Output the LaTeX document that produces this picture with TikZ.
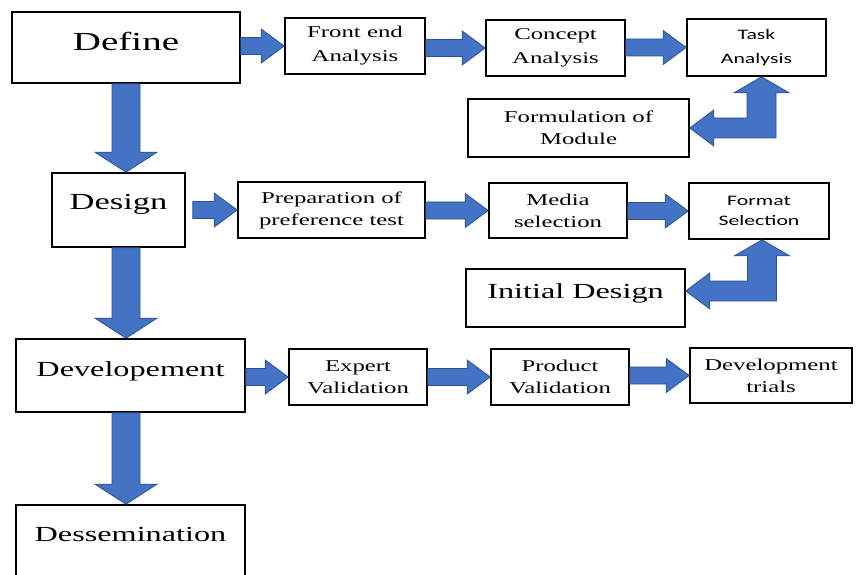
\documentclass[tikz,border=0pt]{standalone}
\usepackage{fontspec}
\setmainfont{Liberation Serif}[FakeStretch=1.5]
\newfontfamily\calibrifont{Carlito}[FakeStretch=1.5]
\usetikzlibrary{calc}

\begin{document}
\begin{tikzpicture}[x=1pt,y=-1pt]
    % Colors
    \definecolor{arrowfill}{RGB}{68,114,196}
    \definecolor{arrowedge}{RGB}{47,82,143}
    % Styles
    \tikzstyle{box}=[draw=black,line width=1.6pt,align=center,inner sep=0pt]
    \tikzstyle{phase}=[box,font=\fontsize{21.5}{26}\selectfont]
    \tikzstyle{stepbox}=[box,font=\fontsize{16.5}{22}\selectfont]
    \tikzstyle{sansbox}=[box,font=\calibrifont\fontsize{14.5}{22}\selectfont]
    \tikzstyle{blockarrow}=[fill=arrowfill,draw=arrowedge,line width=0.8pt,line join=miter]
    \tikzstyle{rarrow}=[blockarrow,to path={let \p1=(\tikztostart), \p2=(\tikztotarget) in
        (\x1,\y2+8.5pt) -- (\x2-23pt,\y2+8.5pt) -- (\x2-23pt,\y2+17pt) -- (\p2)
        -- (\x2-23pt,\y2-17pt) -- (\x2-23pt,\y2-8.5pt) -- (\x1,\y2-8.5pt) -- cycle}]
    \tikzstyle{darrow}=[blockarrow,to path={let \p1=(\tikztostart), \p2=(\tikztotarget) in
        (\x1-14pt,\y1) -- (\x1-14pt,\y2+20pt) -- (\x1-31pt,\y2+20pt) -- (\x1,\y2)
        -- (\x1+31pt,\y2+20pt) -- (\x1+14pt,\y2+20pt) -- (\x1+14pt,\y1) -- cycle}]
    \tikzstyle{elbow}=[blockarrow,to path={let \p1=(\tikztostart), \p2=(\tikztotarget) in
        (\p1) -- (\x1+27.5pt,\y1-16pt) -- (\x1+14.5pt,\y1-16pt) -- (\x1+14.5pt,\y2-10pt)
        -- (\x2+24pt,\y2-10pt) -- (\x2+24pt,\y2-18pt) -- (\p2) -- (\x2+24pt,\y2+18pt)
        -- (\x2+24pt,\y2+10pt) -- (\x1-14.5pt,\y2+10pt) -- (\x1-14.5pt,\y1-16pt)
        -- (\x1-27.5pt,\y1-16pt) -- cycle}]
    %The graphic
    \useasboundingbox[fill=white] (0,0) rectangle (868,575);
    % Phases
    \node[phase,minimum width=228,minimum height=71,font=\fontsize{26}{30}\selectfont,text depth=13pt] (define) at (126,47.5) {Define};
    \node[phase,minimum width=133,minimum height=74,font=\fontsize{23}{27}\selectfont,text depth=16pt] (design) at (118.5,210) {Design};
    \node[phase,minimum width=229,minimum height=73,text depth=12.5pt] (developement) at (130.5,375.5) {Developement};
    \node[phase,minimum width=229,minimum height=75,text depth=16.5pt] (dessemination) at (130.5,542.5) {Dessemination};
    % Define steps
    \node[stepbox,minimum width=140,minimum height=56,font=\fontsize{16.5}{24}\selectfont] (front) at (355,46) {Front end\\Analysis};
    \node[stepbox,minimum width=139,minimum height=56,font=\fontsize{16.5}{24}\selectfont] (concept) at (555.5,48) {Concept\\Analysis};
    \node[sansbox,minimum width=139,minimum height=57,font=\calibrifont\fontsize{14.5}{24}\selectfont] (task) at (756.5,47.5) {Task\\Analysis};
    \node[stepbox,minimum width=221,minimum height=58] (formulation) at (578.5,128) {Formulation of\\Module};
    % Design steps
    \node[stepbox,minimum width=187,minimum height=56] (preparation) at (331.5,210) {Preparation of\\preference test};
    \node[stepbox,minimum width=138,minimum height=55] (media) at (558,210.5) {Media\\selection};
    \node[sansbox,minimum width=140,minimum height=56,font=\calibrifont\fontsize{14.5}{20}\selectfont] (format) at (759,211) {Format\\Selection};
    \node[phase,minimum width=219,minimum height=58,text depth=14.5pt] (initial) at (575.5,298) {Initial Design};
    % Developement steps
    \node[stepbox,minimum width=138,minimum height=56] (expert) at (358,377) {Expert\\Validation};
    \node[stepbox,minimum width=138,minimum height=56] (product) at (560,377) {Product\\Validation};
    \node[stepbox,minimum width=162,minimum height=55] (trials) at (771,375.5) {Development\\trials};
    % Arrows down
    \path[darrow] (define.south) to (design.north);
    \path[darrow] (define.south |- design.south) to (developement.north);
    \path[darrow] (define.south |- developement.south) to (dessemination.north);
    % Arrows right
    \path[rarrow] (define.east) to (front.west);
    \path[rarrow] (front.east) to (concept.west);
    \path[rarrow] (concept.east) to (task.west);
    \path[rarrow] ([xshift=7pt]design.east) to (preparation.west);
    \path[rarrow] (preparation.east) to (media.west);
    \path[rarrow] (media.east) to (format.west);
    \path[rarrow] (developement.east) to (expert.west);
    \path[rarrow] (expert.east) to (product.west);
    \path[rarrow] (product.east) to (trials.west);
    % Elbow arrows
    \path[elbow] ([xshift=5pt]task.south) to (formulation.east);
    \path[elbow] ([xshift=3pt]format.south) to ([yshift=7pt]initial.east);
\end{tikzpicture}
\end{document}
